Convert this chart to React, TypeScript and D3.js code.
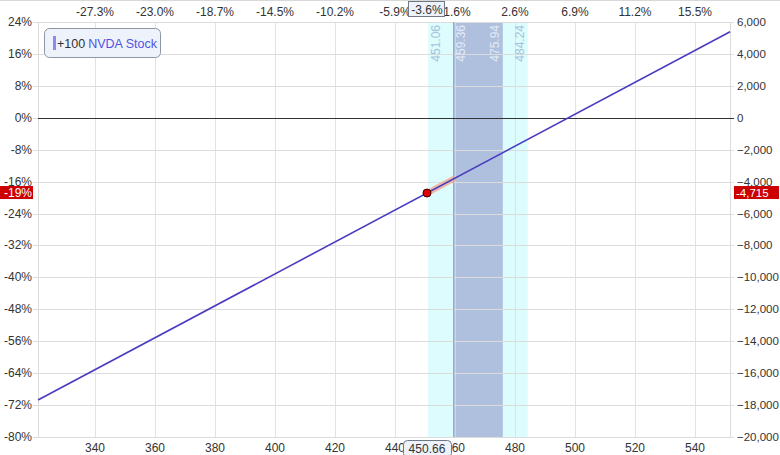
import React from "react";
import * as d3 from "d3";

const priceTicks = [340, 360, 380, 400, 420, 440, 460, 480, 500, 520, 540];
const topPctLabels = ["-27.3%", "-23.0%", "-18.7%", "-14.5%", "-10.2%", "-5.9%", "-1.6%", "2.6%", "6.9%", "11.2%", "15.5%"];
const leftPctTicks = [24, 16, 8, 0, -8, -16, -24, -32, -40, -48, -56, -64, -72, -80];
const rightDollarTicks = [6000, 4000, 2000, 0, -2000, -4000, -6000, -8000, -10000, -12000, -14000, -16000, -18000, -20000];
const linePrices = [321, 551.7];
const linePL = [-17680, 5390];
const highlightPrices = [450.66, 459.36];
const highlightPL = [-4715, -3845];
const outerBand = [451.06, 484.24];
const innerBand = [459.36, 475.94];
const currentPrice = 450.66;
const currentPL = -4715;
const currentPctLabel = "-19%";
const currentPLLabel = "-4,715";
const currentMoveLabel = "-3.6%";
const legendQty = "+100";
const legendName = "NVDA Stock";

const W = 780, H = 455;
const L = 38, R = 730, T = 22, B = 437;

export default function App() {
  const x = d3.scaleLinear().domain([321, 551.67]).range([L, R]);
  const yPct = d3.scaleLinear().domain([-80, 24]).range([B, T]);
  const yUsd = d3.scaleLinear().domain([-20000, 6000]).range([B, T]);
  const fmt = d3.format(",");
  const font = "'Liberation Sans', Arial, sans-serif";
  const line = d3.line<number>().x((p) => x(p)).y((_, i) => yUsd(linePL[i]));
  const hl = d3.line<number>().x((p) => x(p)).y((_, i) => yUsd(highlightPL[i]));
  const bandLabels = [
    { v: outerBand[0], side: "in", color: "#a9c1dc" },
    { v: innerBand[0], side: "in", color: "#e4ebf6" },
    { v: innerBand[1], side: "out", color: "#e4ebf6" },
    { v: outerBand[1], side: "out", color: "#a9c1dc" },
  ];
  return (
    <svg width={W} height={H} style={{ position: "absolute", left: 0, top: 0, background: "#fff" }} fontFamily={font}>
      <line x1={0} x2={W} y1={0.5} y2={0.5} stroke="#d8d8d8" />
      {/* bands */}
      <rect x={x(outerBand[0])} y={T} width={x(outerBand[1]) - x(outerBand[0])} height={B - T} fill="#dcfcfd" />
      <rect x={x(innerBand[0])} y={T} width={x(innerBand[1]) - x(innerBand[0])} height={B - T} fill="#aec0dd" />
      {/* grid */}
      {priceTicks.map((p) => (
        <line key={"gx" + p} x1={x(p) + 0.5} x2={x(p) + 0.5} y1={T} y2={B} stroke="#dcdcdc" strokeOpacity={0.8} />
      ))}
      {leftPctTicks.map((v) => (
        <line key={"gy" + v} x1={L - 5} x2={R + 4} y1={Math.round(yPct(v)) + 0.5} y2={Math.round(yPct(v)) + 0.5} stroke="#dcdcdc" />
      ))}
      <line x1={L + 0.5} x2={L + 0.5} y1={T} y2={B} stroke="#dcdcdc" />
      <line x1={R + 0.5} x2={R + 0.5} y1={T} y2={B} stroke="#dcdcdc" />
      <line x1={x(innerBand[0]) + 0.5} x2={x(innerBand[0]) + 0.5} y1={T} y2={B} stroke="#98a9c6" />
      {/* zero line */}
      <line x1={L} x2={R + 4} y1={Math.round(yPct(0)) + 0.5} y2={Math.round(yPct(0)) + 0.5} stroke="#333" />
      {/* band labels */}
      {bandLabels.map((b) => {
        const cx = b.side === "in" ? x(b.v) + 12 : x(b.v) - 4;
        return (
          <text key={"bl" + b.v} transform={`translate(${cx},${T + 3}) rotate(-90)`} textAnchor="end" fontSize={12} fill={b.color}>
            {b.v.toFixed(2)}
          </text>
        );
      })}
      {/* P/L line */}
      <path d={hl(highlightPrices) || ""} stroke="#f2a48c" strokeOpacity={0.75} strokeWidth={6} strokeLinecap="round" fill="none" />
      <path d={line(linePrices) || ""} stroke="#4a3cc0" strokeWidth={1.6} fill="none" />
      <circle cx={x(currentPrice)} cy={yUsd(currentPL)} r={4} fill="#e00000" stroke="#3a0000" strokeWidth={1} />
      {/* left axis labels */}
      {leftPctTicks.map((v) => (
        <text key={"lt" + v} x={32} y={yPct(v) + 4} textAnchor="end" fontSize={12} fill="#333">{v + "%"}</text>
      ))}
      {rightDollarTicks.map((v) => (
        <text key={"rt" + v} x={737} y={yUsd(v) + 4} textAnchor="start" fontSize={11.5} fill="#333">{fmt(v)}</text>
      ))}
      {priceTicks.map((p, i) => (
        <g key={"bt" + p}>
          <text x={x(p)} y={452} textAnchor="middle" fontSize={12} fill="#333">{p}</text>
          <text x={x(p)} y={16} textAnchor="middle" fontSize={12} fill="#333">{topPctLabels[i]}</text>
        </g>
      ))}
      {/* current markers */}
      <rect x={0} y={yUsd(currentPL) - 7} width={33} height={13} fill="#cc0000" />
      <text x={32} y={yUsd(currentPL) + 4} textAnchor="end" fontSize={12} fill="#fff">{currentPctLabel}</text>
      <rect x={734} y={yUsd(currentPL) - 7} width={45} height={13} fill="#cc0000" />
      <text x={736} y={yUsd(currentPL) + 4} textAnchor="start" fontSize={11.5} fill="#fff">{currentPLLabel}</text>
      <rect x={x(currentPrice) - 18.5} y={1.5} width={36} height={15} fill="#eef3fb" stroke="#6f7888" />
      <text x={x(currentPrice)} y={13.5} textAnchor="middle" fontSize={12} fill="#333">{currentMoveLabel}</text>
      <rect x={x(currentPrice) - 23.5} y={440.5} width={48} height={17} rx={4} fill="#eef3fb" stroke="#6f7888" />
      <text x={x(currentPrice)} y={453} textAnchor="middle" fontSize={12} fill="#333">{currentPrice.toFixed(2)}</text>
      {/* legend */}
      <rect x={44.5} y={28.5} width={116} height={29} rx={5} fill="#eef3fb" stroke="#8e96a3" />
      <rect x={53} y={36} width={3} height={14} fill="#8b8bef" />
      <text x={57} y={48} fontSize={12.5} fill="#333">
        {legendQty}
        <tspan fill="#5252df" dx={3}>{legendName}</tspan>
      </text>
    </svg>
  );
}
